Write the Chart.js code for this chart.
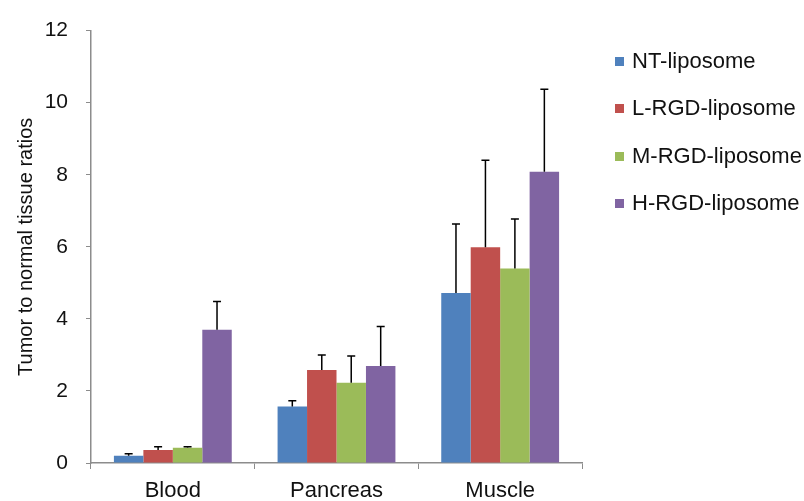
<!DOCTYPE html>
<html>
<head>
<meta charset="utf-8">
<script src="https://cdn.jsdelivr.net/npm/chart.js@4/dist/chart.umd.min.js"></script>
<style>
  html, body { margin: 0; padding: 0; background: #fff; }
  #wrap { position: relative; width: 804px; height: 501px; }
  #legend { position: absolute; left: 615px; top: 0; font-family: "Liberation Sans", Arial, sans-serif; font-size: 22px; color: #111; }
  .item { position: absolute; left: 0; white-space: nowrap; display: flex; align-items: center; height: 24px; }
  .box { width: 9px; height: 9px; margin-right: 8px; }
</style>
</head>
<body>
<div id="wrap">
  <canvas id="chart" width="804" height="501"></canvas>
  <div id="legend"></div>
</div>
<script>
const categories = ["Blood", "Pancreas", "Muscle"];
const seriesNames = ["NT-liposome", "L-RGD-liposome", "M-RGD-liposome", "H-RGD-liposome"];
const colors = ["#4F81BD", "#C0504D", "#9BBB59", "#8064A2"];

// mean values
const ntValues = [0.2, 1.57, 4.72];
const lowValues = [0.36, 2.58, 5.99];
const midValues = [0.42, 2.23, 5.4];
const highValues = [3.7, 2.69, 8.08];

// upper error (SD)
const ntErr = [0.06, 0.16, 1.91];
const lowErr = [0.09, 0.42, 2.41];
const midErr = [0.03, 0.74, 1.37];
const highErr = [0.78, 1.1, 2.29];

const yTicks = [0, 2, 4, 6, 8, 10, 12];

const values = [ntValues, lowValues, midValues, highValues];
const errors = [ntErr, lowErr, midErr, highErr];

// draws upward error bars with caps
const errorBars = {
  id: "errorBars",
  afterDatasetsDraw(chart) {
    const ctx = chart.ctx;
    const y = chart.scales.y;
    ctx.save();
    ctx.strokeStyle = "#000";
    ctx.lineWidth = 1.5;
    chart.data.datasets.forEach((ds, i) => {
      const meta = chart.getDatasetMeta(i);
      meta.data.forEach((bar, j) => {
        const top = y.getPixelForValue(ds.data[j] + errors[i][j]);
        ctx.beginPath();
        ctx.moveTo(bar.x, bar.y);
        ctx.lineTo(bar.x, top);
        ctx.moveTo(bar.x - 4, top);
        ctx.lineTo(bar.x + 4, top);
        ctx.stroke();
      });
    });
    ctx.restore();
  },
};

function initChart() {
  const ctx = document.getElementById("chart").getContext("2d");
  new Chart(ctx, {
    type: "bar",
    data: {
      labels: categories,
      datasets: seriesNames.map((name, i) => ({
        label: name,
        data: values[i],
        backgroundColor: colors[i],
        borderWidth: 0,
        barPercentage: 1,
        categoryPercentage: 0.72,
      })),
    },
    options: {
      responsive: false,
      animation: false,
      layout: { padding: { top: 24, right: 222, left: 0, bottom: 0 } },
      plugins: { legend: { display: false }, tooltip: { enabled: false } },
      scales: {
        x: {
          grid: { drawOnChartArea: false, color: "#8c8c8c", tickLength: 6, offset: true },
          border: { color: "#8c8c8c", width: 1.5 },
          ticks: { color: "#111", font: { family: "Liberation Sans", size: 22 }, padding: 9 },
          afterFit(scale) { scale.height = 38; },
        },
        y: {
          min: 0,
          max: 12,
          afterBuildTicks(scale) { scale.ticks = yTicks.map((v) => ({ value: v })); },
          grid: { drawOnChartArea: false, color: "#8c8c8c", tickLength: 5 },
          border: { color: "#8c8c8c", width: 1.5 },
          ticks: { color: "#111", font: { family: "Liberation Sans", size: 21 }, padding: 18 },
          title: {
            display: true,
            text: "Tumor to normal tissue ratios",
            color: "#111",
            font: { family: "Liberation Sans", size: 20 },
            padding: { top: 14, bottom: 4 },
          },
          afterFit(scale) { scale.width = 91; },
        },
      },
    },
    plugins: [errorBars],
  });
}

function buildLegend() {
  const centers = [61, 108, 156, 203];
  const legend = document.getElementById("legend");
  seriesNames.forEach((name, i) => {
    const item = document.createElement("div");
    item.className = "item";
    item.style.top = centers[i] - 12 + "px";
    item.innerHTML = `<span class="box" style="background:${colors[i]}"></span><span>${name}</span>`;
    legend.appendChild(item);
  });
}

document.addEventListener("DOMContentLoaded", () => {
  initChart();
  buildLegend();
});
</script>
</body>
</html>
